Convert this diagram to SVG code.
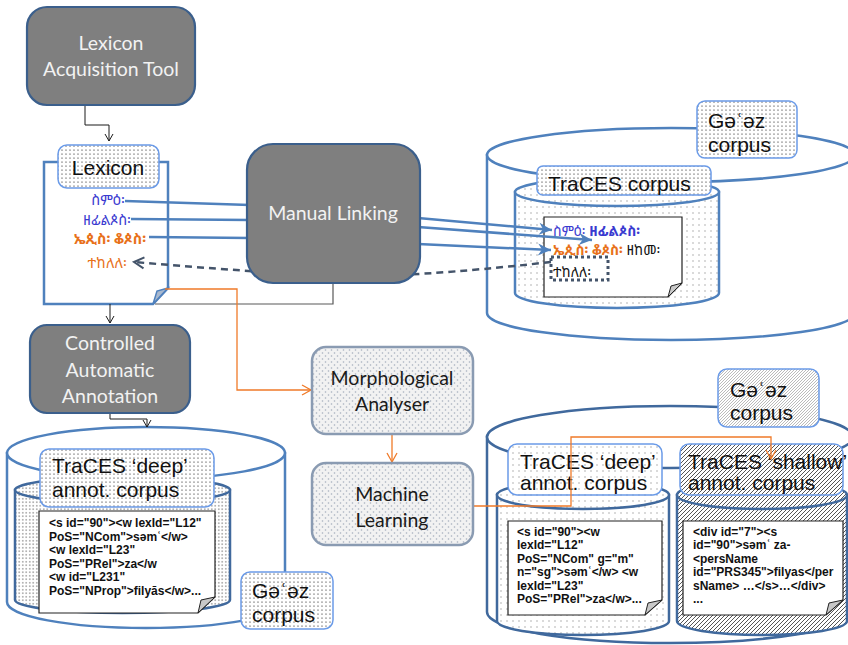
<svg xmlns="http://www.w3.org/2000/svg" width="848" height="645" viewBox="0 0 848 645">
<defs>
<style>
.proc{fill:#7f7f7f;stroke:#3b5f8c;stroke-width:2.2}
.ptxt{font-family:Lato,"Open Sans",sans-serif;font-size:19.5px;fill:#f2f2f2;text-anchor:middle}
.soft{fill:url(#sphere);stroke:#8a9bb2;stroke-width:2.5}
.stxt{font-family:Lato,"Open Sans",sans-serif;font-size:19.5px;fill:#1a1a1a;text-anchor:middle}
.cyl{stroke:#4f81bd;stroke-width:2.5}
.cyl2{stroke:#40699d;stroke-width:2.5}
.lab{stroke:#6b9be8;stroke-width:1.5}
.ltxt{font-family:"Liberation Sans",Arial,sans-serif;font-size:21px;fill:#111}
.note{fill:#fff;stroke:#222;stroke-width:1.2}
.fold{fill:#c8c8c8;stroke:#222;stroke-width:1}
.code{font-family:"Liberation Sans",Arial,sans-serif;font-size:12px;font-weight:bold;fill:#111}
.eth{font-family:"Noto Sans Ethiopic","Abyssinica SIL","Noto Sans","DejaVu Sans",sans-serif;font-size:14px}
.eth2{font-size:14.5px}
.blue{fill:#3a3ad0}
.orng{fill:#e8711a}
.thin{fill:none;stroke:#1a1a1a;stroke-width:1}
.bl{fill:none;stroke:#4f81bd;stroke-width:2.5}
.or{fill:none;stroke:#f07a28;stroke-width:1.3}
.dash{fill:none;stroke:#44546a;stroke-width:2.5;stroke-dasharray:7,5}
</style>
<pattern id="dots" width="4" height="4" patternUnits="userSpaceOnUse"><rect width="4" height="4" fill="#fff"/><circle cx="2" cy="2" r="0.6" fill="#000"/></pattern>
<pattern id="dotsDense" width="3.5" height="3.5" patternUnits="userSpaceOnUse"><rect width="3.5" height="3.5" fill="#fff"/><circle cx="1.75" cy="1.75" r="0.55" fill="#222"/></pattern>
<pattern id="dotsSparse" width="6" height="6" patternUnits="userSpaceOnUse"><rect width="6" height="6" fill="#fff"/><circle cx="3" cy="3" r="0.7" fill="#999"/></pattern>
<pattern id="hatch" width="4" height="4" patternUnits="userSpaceOnUse"><rect width="4" height="4" fill="#fff"/><path d="M-1,1 L1,-1 M0,4 L4,0 M3,5 L5,3" stroke="#555" stroke-width="1"/></pattern>
<pattern id="hatchLight" width="3" height="3" patternUnits="userSpaceOnUse"><rect width="3" height="3" fill="#fff"/><path d="M-1,1 L1,-1 M0,3 L3,0 M2,4 L4,2" stroke="#aaa" stroke-width="0.8"/></pattern>
<pattern id="sphere" width="6" height="6" patternUnits="userSpaceOnUse"><rect width="6" height="6" fill="#f2f2f2"/><path d="M1.5,1 L2.5,2 L1.5,3 L0.5,2 Z M4.5,4 L5.5,5 L4.5,6 L3.5,5 Z" fill="#b0b8c4"/></pattern>
<marker id="aBlk" markerWidth="10" markerHeight="10" refX="8" refY="5" orient="auto" markerUnits="userSpaceOnUse"><path d="M1,1 L8,5 L1,9" fill="none" stroke="#1a1a1a" stroke-width="1"/></marker>
<marker id="aOr" markerWidth="12" markerHeight="12" refX="10" refY="6" orient="auto" markerUnits="userSpaceOnUse"><path d="M1,1 L10,6 L1,11" fill="none" stroke="#f07a28" stroke-width="1.3"/></marker>
<marker id="aBlue" markerWidth="16" markerHeight="14" refX="14" refY="7" orient="auto" markerUnits="userSpaceOnUse"><path d="M1,1 L14,7 L1,13 L5,7 Z" fill="#4f81bd"/></marker>
<marker id="aDash" markerWidth="14" markerHeight="14" refX="12" refY="7" orient="auto" markerUnits="userSpaceOnUse"><path d="M2,1.5 L12,7 L2,12.5" fill="none" stroke="#44546a" stroke-width="2"/></marker>
</defs>
<rect width="848" height="645" fill="#fff"/>

<!-- Top-right Ge'ez corpus cylinder -->
<g id="geez-top">
<path class="cyl" fill="#fff" d="M487,155 L487,313 A184,27 0 0 0 855,313 L855,155 Z"/>
<ellipse class="cyl" fill="#fff" cx="671" cy="155" rx="184" ry="27"/>
</g>
<g id="traces-corpus">
<path class="cyl" fill="url(#dotsSparse)" d="M515,192 L515,293 A102,15 0 0 0 719,293 L719,192 Z"/>
<ellipse class="cyl" fill="url(#dotsSparse)" cx="617" cy="192" rx="102" ry="14"/>
<path class="note" d="M544,217 L682,217 L682,283 L668,297 L544,297 Z"/>
<path class="fold" d="M682,283 L668,297 L671,286 Z"/>
<text class="eth" x="553" y="236"><tspan class="blue">ስምዕ፡</tspan> <tspan class="blue" font-weight="bold">ዘፊልጶስ፡</tspan></text>
<text class="eth" x="553" y="255"><tspan class="orng" font-weight="bold">ኤጲስ፡ ቆጶስ፡</tspan> <tspan fill="#111">ዘከመ፡</tspan></text>
<text class="eth" x="553" y="277" fill="#111">ተከለለ፡</text>
<rect x="551" y="257" width="57" height="23" fill="none" stroke="#44546a" stroke-width="3" stroke-dasharray="3,3"/>
</g>
<g id="traces-corpus-label">
<rect class="lab" x="537" y="166" width="174" height="29" rx="6" fill="url(#dots)"/>
<text class="ltxt" x="548" y="191">TraCES corpus</text>
</g>
<g id="geez-top-label">
<rect class="lab" x="697" y="101" width="100" height="57" rx="8" fill="url(#dots)"/>
<text class="ltxt" x="708" y="128" font-size="22">Gəʿəz</text>
<text class="ltxt" x="708" y="152" font-size="22">corpus</text>
</g>

<!-- Bottom-left cylinder -->
<g id="geez-bl">
<path class="cyl" fill="#fff" d="M7,453 L7,602 A139,26 0 0 0 285,602 L285,453 Z"/>
<ellipse class="cyl" fill="#fff" cx="146" cy="453" rx="139" ry="26"/>
</g>
<g id="deep-bl">
<path class="cyl2" fill="url(#dotsDense)" d="M15,490 L15,600 A107.5,13 0 0 0 230,600 L230,490 Z"/>
<ellipse class="cyl2" fill="url(#dotsDense)" cx="122.5" cy="490" rx="107.5" ry="13"/>
<path class="note" d="M39,511 L215,511 L215,597 L198,613 L39,613 Z"/>
<path class="fold" d="M215,597 L198,613 L201,600 Z"/>
<text class="code" x="49" y="527">&lt;s id="90"&gt;&lt;w lexId="L12"</text>
<text class="code" x="49" y="541">PoS="NCom"&gt;səmʿ&lt;/w&gt;</text>
<text class="code" x="49" y="554">&lt;w lexId="L23"</text>
<text class="code" x="49" y="568">PoS="PRel"&gt;za&lt;/w</text>
<text class="code" x="49" y="581">&lt;w id="L231"</text>
<text class="code" x="49" y="595">PoS="NProp"&gt;filyās&lt;/w&gt;...</text>
</g>
<g id="deep-bl-label">
<rect class="lab" x="40" y="449" width="174" height="58" rx="9" fill="url(#dots)"/>
<text class="ltxt" x="52" y="473">TraCES ‘deep’</text>
<text class="ltxt" x="52" y="497">annot. corpus</text>
</g>
<g id="geez-bl-label">
<rect class="lab" x="241" y="572" width="92" height="57" rx="9" fill="url(#dots)"/>
<text class="ltxt" x="252" y="598" font-size="22">Gəʿəz</text>
<text class="ltxt" x="252" y="622" font-size="22">corpus</text>
</g>

<!-- Bottom-right cylinders -->
<g id="geez-br">
<path class="cyl2" fill="#fff" d="M487,437 L487,612 A183,31 0 0 0 853,612 L853,437 Z"/>
<ellipse class="cyl2" fill="#fff" cx="670" cy="437" rx="183" ry="31"/>
</g>
<g id="deep-br">
<path class="cyl2" fill="url(#dotsSparse)" d="M497,495 L497,621 A86,14 0 0 0 669,621 L669,495 Z"/>
<ellipse class="cyl2" fill="url(#dotsSparse)" cx="583" cy="495" rx="86" ry="14"/>
<path class="note" d="M508,521 L662,521 L662,600 L645,615 L508,615 Z"/>
<path class="fold" d="M662,600 L645,615 L648,603 Z"/>
<text class="code" x="517" y="536">&lt;s id="90"&gt;&lt;w</text>
<text class="code" x="517" y="549">lexId="L12"</text>
<text class="code" x="517" y="563">PoS="NCom"  g="m"</text>
<text class="code" x="517" y="576">n="sg"&gt;səmʿ&lt;/w&gt; &lt;w</text>
<text class="code" x="517" y="590">lexId="L23"</text>
<text class="code" x="517" y="603">PoS="PRel"&gt;za&lt;/w&gt;...</text>
</g>
<g id="shallow-br">
<path class="cyl2" fill="url(#hatch)" d="M677,495 L677,621 A85,14 0 0 0 847,621 L847,495 Z"/>
<ellipse class="cyl2" fill="url(#hatch)" cx="762" cy="495" rx="85" ry="14"/>
<path class="note" d="M683,521 L843,521 L843,600 L826,615 L683,615 Z"/>
<path class="fold" d="M843,600 L826,615 L829,603 Z"/>
<text class="code" x="693" y="536">&lt;div id="7"&gt;&lt;s</text>
<text class="code" x="693" y="549">id="90"&gt;səmʿ za-</text>
<text class="code" x="693" y="563">&lt;persName</text>
<text class="code" x="693" y="576">id="PRS345"&gt;filyas&lt;/per</text>
<text class="code" x="693" y="590">sName&gt; …&lt;/s&gt;…&lt;/div&gt;</text>
<text class="code" x="693" y="603">...</text>
</g>
<g id="deep-br-label">
<rect class="lab" x="508" y="444" width="154" height="51" rx="9" fill="url(#dotsSparse)"/>
<text class="ltxt" x="520" y="469">TraCES ‘deep’</text>
<text class="ltxt" x="520" y="490">annot. corpus</text>
</g>
<g id="shallow-br-label">
<rect class="lab" x="680" y="444" width="163" height="51" rx="9" fill="url(#hatch)"/>
<text class="ltxt" x="688" y="469">TraCES ‘shallow’</text>
<text class="ltxt" x="688" y="490">annot. corpus</text>
</g>
<g id="geez-br-label">
<rect class="lab" x="718" y="369" width="101" height="58" rx="9" fill="url(#hatchLight)"/>
<text class="ltxt" x="730" y="397" font-size="22">Gəʿəz</text>
<text class="ltxt" x="730" y="420" font-size="22">corpus</text>
</g>

<g id="lexicon">
<path d="M44,162 L168,162 L168,288 L153,304 L44,304 Z" fill="#fff" stroke="#4f81bd" stroke-width="2.5"/>
<path d="M168,288 L153,304 L157,291 Z" fill="#a9b9cf" stroke="#4f81bd" stroke-width="1.5"/>
<rect class="lab" x="58" y="145" width="101" height="43" rx="9" fill="url(#dots)"/>
<text class="ltxt" x="108" y="175" font-size="23" text-anchor="middle">Lexicon</text>
<text class="eth eth2 blue" x="125" y="205" text-anchor="end">ስምዕ፡</text>
<text class="eth eth2 blue" x="131" y="225" text-anchor="end">ዘፊልጶስ፡</text>
<text class="eth eth2 orng" x="146" y="244" text-anchor="end" font-weight="bold">ኤጲስ፡  ቆጶስ፡</text>
<text class="eth eth2 orng" x="127" y="268" text-anchor="end">ተከለለ፡</text>
</g>

<!-- Connectors -->
<g id="connectors">
<path class="thin" d="M85,105 L85,125 L109,125 L109,141" marker-end="url(#aBlk)"/>
<path class="thin" d="M110,304 L110,323" marker-end="url(#aBlk)"/>
<path class="thin" d="M110,413 L110,419 L147,419 L147,427" marker-end="url(#aBlk)"/>
<path fill="none" stroke="#595959" stroke-width="1.2" d="M333,283 L333,304 L155,304"/>
<path class="or" d="M165,289 L237,289 L237,390 L311,390" marker-end="url(#aOr)"/>
<path class="or" d="M392,434 L392,462" marker-end="url(#aOr)"/>
<path class="or" d="M473,506 L571,506 L571,437 L771,437 L771,459" marker-end="url(#aOr)"/>
<path class="bl" d="M125,201 L250,205"/>
<path class="bl" d="M131,219 L250,220"/>
<path class="bl" d="M149,237 L250,238"/>
<path class="bl" d="M418,218 L552,230" marker-end="url(#aBlue)"/>
<path class="bl" d="M418,227 L592,240" marker-end="url(#aBlue)"/>
<path class="bl" d="M418,244 L551,250" marker-end="url(#aBlue)"/>
<path class="dash" d="M551,262 Q410,278 333,276 Q250,272 134,262" marker-end="url(#aDash)"/>
</g>

<!-- Nodes -->
<g id="lexicon-acquisition-tool">
<rect class="proc" x="27" y="7" width="168" height="98" rx="20"/>
<text class="ptxt" x="111" y="50">Lexicon</text>
<text class="ptxt" x="111" y="76">Acquisition Tool</text>
</g>
<g id="manual-linking">
<rect class="proc" x="247" y="144" width="173" height="139" rx="26"/>
<text class="ptxt" x="333" y="220">Manual Linking</text>
</g>
<g id="controlled-automatic-annotation">
<rect class="proc" x="30" y="325" width="160" height="88" rx="17"/>
<text class="ptxt" x="110" y="350">Controlled</text>
<text class="ptxt" x="110" y="377">Automatic</text>
<text class="ptxt" x="110" y="403">Annotation</text>
</g>
<g id="morphological-analyser">
<rect class="soft" x="312" y="347" width="161" height="87" rx="14"/>
<text class="stxt" x="392" y="385">Morphological</text>
<text class="stxt" x="392" y="411">Analyser</text>
</g>
<g id="machine-learning">
<rect class="soft" x="312" y="463" width="161" height="82" rx="14"/>
<text class="stxt" x="392" y="501">Machine</text>
<text class="stxt" x="392" y="527">Learning</text>
</g>
</svg>
